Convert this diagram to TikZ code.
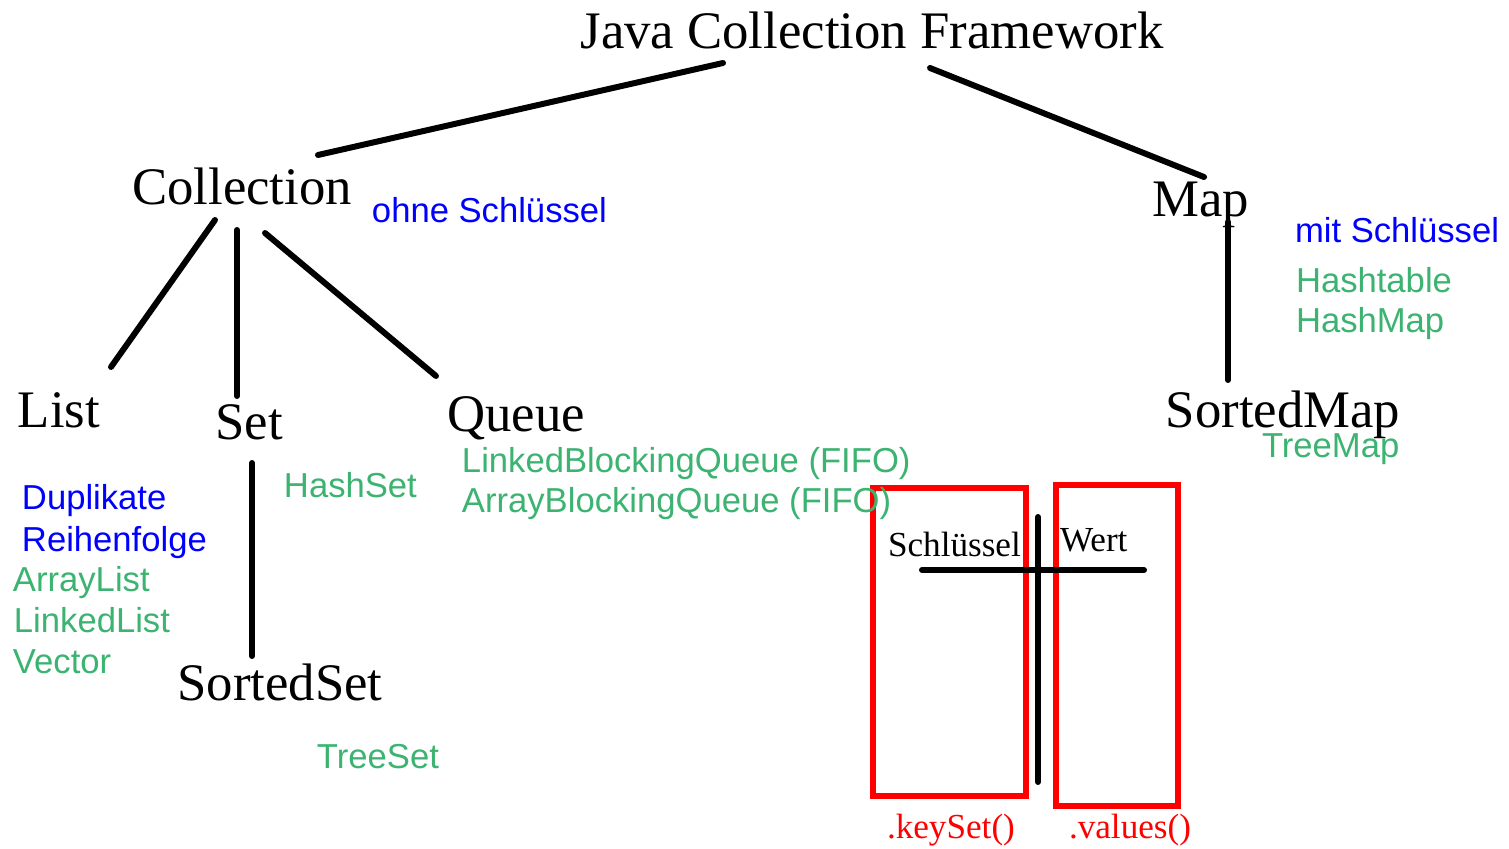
\documentclass[tikz,border=0pt]{standalone}
\usepackage{fontspec}
\setmainfont{Liberation Serif}
\newfontfamily\arialfont{Liberation Sans}
\usepackage{xcolor}
\usepackage{tikz}
\usetikzlibrary{positioning}
\definecolor{implgreen}{RGB}{60,179,113}
\definecolor{noteblue}{RGB}{0,0,255}
\definecolor{keyred}{RGB}{255,0,0}

\begin{document}
\begin{tikzpicture}[x=0.01cm ,y=-0.01cm ,line width=1.7pt ,line cap=round ,cls/.style ={ anchor=base ,inner sep=0pt ,font=\fontsize{15}{18}\selectfont }, note/.style ={ anchor=base west ,inner sep=0pt ,text=noteblue ,font=\arialfont\fontsize{9.85}{12}\selectfont }, impl/.style ={ note ,text=implgreen }, small/.style ={ anchor=base west ,inner sep=0pt ,font=\fontsize{10}{12}\selectfont }, keybox/.style ={ draw=keyred ,line cap=butt }]
\useasboundingbox (0,0) rectangle (1509,849);
\node[cls] (jcf) at (872,49) {Java Collection Framework};
\node[cls] (coll) at (242,205) {Collection};
\node[cls] (map) at (1201,217) {Map};
\node[cls] (list) at (59,428) {List};
\node[cls] (set) at (249,440) {Set};
\node[cls] (queue) at (516,432) {Queue};
\node[cls] (sset) at (280,700) {SortedSet};
\node[cls] (smap) at (1283,428) {SortedMap};
\node[note] (ohne) at (369,223) {ohne Schlüssel};
\node[note] (mit) at (1292,243) {mit Schlüssel};
\node[note] (dup) at (19,510) {Duplikate};
\node[note] (reih) at (19,551) {Reihenfolge};
\node[impl] (alist) at (10,591) {ArrayList};
\node[impl] (llist) at (11,632) {LinkedList};
\node[impl] (vec) at (10,673) {Vector};
\node[impl] (hset) at (281,498) {HashSet};
\node[impl] (tset) at (314,768) {TreeSet};
\node[impl] (htab) at (1293,293) {Hashtable};
\node[impl] (hmap) at (1293,333) {HashMap};
\node[impl] (tmap) at (1259,458) {TreeMap};
\draw[keybox] (873,488) rectangle (1026,796);
\draw[keybox] (1056,485) rectangle (1178,806);
\node[impl] (lbq) at (459,472) {LinkedBlockingQueue (FIFO)};
\node[impl] (abq) at (459,512) {ArrayBlockingQueue (FIFO)};
\draw (922,570) -- (1144,570);
\draw (1038,517) -- (1038,782);
\node[small] (key) at (885,556) {Schlüssel};
\node[small] (wert) at (1057,551) {Wert};
\node[small ,text=keyred] (keyset) at (884,838) {.keySet()};
\node[small ,text=keyred] (values) at (1066,838) {.values()};
\path ([shift={(-149,14)}]jcf.base) edge ([shift={(76,-50)}]coll.base);
\path ([shift={(58,19)}]jcf.base) edge ([shift={(3,-40)}]map.base);
\path ([shift={(-27,15)}]coll.base) edge ([shift={(52,-61)}]list.base);
\path ([shift={(-5,25)}]coll.base) edge ([shift={(-12,-44)}]set.base);
\path ([shift={(23,28)}]coll.base) edge ([shift={(-80,-56)}]queue.base);
\path ([shift={(3,23)}]set.base) edge ([shift={(-28,-44)}]sset.base);
\path ([shift={(27,5)}]map.base) edge ([shift={(-55,-48)}]smap.base);
\end{tikzpicture}
\end{document}
